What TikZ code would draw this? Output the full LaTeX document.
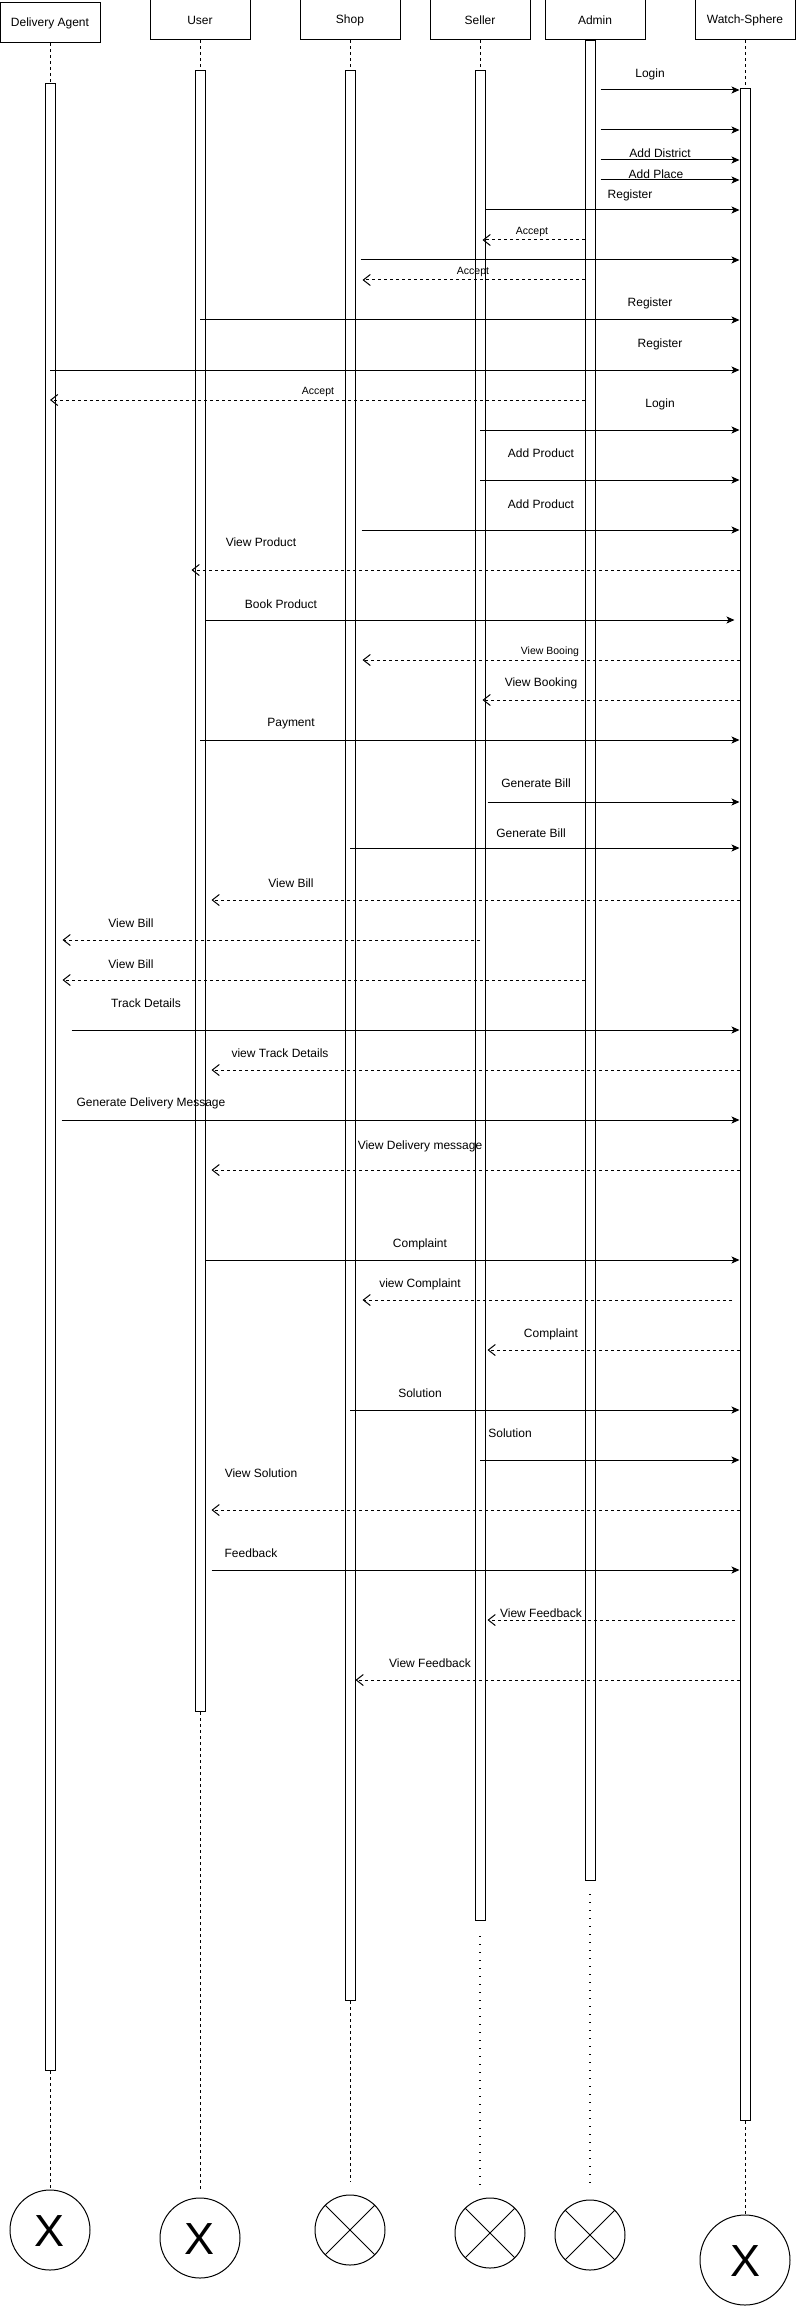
\documentclass[tikz,border=0pt]{standalone}
\usepackage{fontspec}
\setmainfont{Liberation Sans}
\usetikzlibrary{arrows.meta}

\begin{document}
\begin{tikzpicture}[x=1pt,y=-1pt,line width=1pt,
	actor/.style={draw,minimum width=100pt,minimum height=40pt,inner sep=0pt,font=\fontsize{12}{14}\selectfont},
	bar/.style={draw,fill=white,minimum width=10pt,inner sep=0pt,anchor=north},
	msg/.style={-{Stealth[length=8pt,width=7pt,inset=2pt]}},
	reply/.style={dash pattern=on 3pt off 3pt,-{Straight Barb[length=7pt,width=11pt]}},
	life/.style={dash pattern=on 3pt off 3pt},
	dots/.style={line width=1.2pt,dash pattern=on 0.6pt off 7.4pt},
	lbl/.style={font=\fontsize{12}{14}\selectfont,inner sep=0pt,text height=8.6pt,text depth=0pt},
	small/.style={font=\fontsize{10.5}{12}\selectfont,inner sep=0pt,text height=7.5pt,text depth=0pt},
	endmark/.style={draw,circle,inner sep=0pt},
	bigx/.style={font=\fontsize{45}{45}\selectfont,text height=32pt,text depth=0pt}]
	\path[use as bounding box,fill=white] (0,0) rectangle (796,2306);

	% heads
	\node[actor] (da) at (50,23) {Delivery Agent};
	\node[actor] (user) at (200,20) {User};
	\node[actor] (shop) at (350,20) {Shop};
	\node[actor] (seller) at (480,20) {Seller};
	\node[actor] (admin) at (595,20) {Admin};
	\node[actor] (ws) at (745,20) {Watch-Sphere};

	% activation bars
	\node[bar,minimum height=1987pt] (da-bar) at (50,83) {};
	\node[bar,minimum height=1641pt] (user-bar) at (200,70) {};
	\node[bar,minimum height=1930pt] (shop-bar) at (350,70) {};
	\node[bar,minimum height=1850pt] (seller-bar) at (480,70) {};
	\node[bar,minimum height=1840pt] (admin-bar) at (590,40) {};
	\node[bar,minimum height=2032pt] (ws-bar) at (745,88) {};

	% ends
	\node[endmark,bigx,minimum size=80pt] (da-end) at (50,2230) {X};
	\node[endmark,bigx,minimum size=80pt] (user-end) at (200,2238) {X};
	\node[endmark,minimum size=70pt] (shop-end) at (350,2230) {};
	\node[endmark,minimum size=70pt] (seller-end) at (490,2233) {};
	\node[endmark,minimum size=70pt] (admin-end) at (590,2235) {};
	\node[endmark,bigx,minimum size=90pt] (ws-end) at (745,2260) {X};
	\draw (shop-end.north west) -- (shop-end.south east) (shop-end.north east) -- (shop-end.south west);
	\draw (seller-end.north west) -- (seller-end.south east) (seller-end.north east) -- (seller-end.south west);
	\draw (admin-end.north west) -- (admin-end.south east) (admin-end.north east) -- (admin-end.south west);

	% lifelines
	\draw[life] (da) -- (da-bar);
	\draw[life] (user) -- (user-bar);
	\draw[life] (shop) -- (shop-bar);
	\draw[life] (seller) -- (seller-bar);
	\draw[life] (ws) -- (ws-bar);
	\draw[life] (da-bar) -- (da-end);
	\draw[life] (user-bar) -- ([yshift=6pt]user-end.north);
	\draw[life] (shop-bar) -- ([yshift=13pt]shop-end.north);
	\draw[dots] ([yshift=-15pt]seller-bar.south) -- ([yshift=13pt]seller-end.north -| seller-bar.south);
	\draw[dots] ([yshift=-13pt]admin-bar.south) -- ([yshift=10pt]admin-end.north);
	\draw[life] (ws-bar) -- (ws-end);

	% admin
	\node[lbl] (t1) at (650,73) {Login};
	\draw[msg] ([xshift=5pt]admin-bar.east |- 0,90) -- (ws-bar.west |- 0,90);
	\draw[msg] ([xshift=5pt]admin-bar.east |- 0,130) -- (ws-bar.west |- 0,130);
	\node[lbl] (t2) at (660,153) {Add District};
	\draw[msg] ([xshift=5pt]admin-bar.east |- 0,160) -- (ws-bar.west |- 0,160);
	\node[lbl] (t3) at (656,174) {Add Place};
	\draw[msg] ([xshift=5pt]admin-bar.east |- 0,180) -- (ws-bar.west |- 0,180);

	% register / accept
	\node[lbl] (t4) at (630,194) {Register};
	\draw[msg] (seller-bar.east |- 0,210) -- (ws-bar.west |- 0,210);
	\node[small] (t5) at (532,231) {Accept};
	\draw[reply] (admin-bar.west |- 0,240) -- ([xshift=-3pt]seller-bar.east |- 0,240);
	\draw[msg] ([xshift=5pt]shop-bar.east |- 0,260) -- (ws-bar.west |- 0,260);
	\node[small] (t6) at (473,271) {Accept};
	\draw[reply] (admin-bar.west |- 0,280) -- ([xshift=7pt]shop-bar.east |- 0,280);
	\node[lbl] (t7) at (650,302) {Register};
	\draw[msg] (user-bar |- 0,320) -- (ws-bar.west |- 0,320);
	\node[lbl] (t8) at (660,343) {Register};
	\draw[msg] (da-bar |- 0,370) -- (ws-bar.west |- 0,370);
	\node[small] (t9) at (318,391) {Accept};
	\draw[reply] (admin-bar.west |- 0,400) -- (da-bar |- 0,400);

	% products, booking
	\node[lbl] (t10) at (660,403) {Login};
	\draw[msg] (seller-bar |- 0,430) -- (ws-bar.west |- 0,430);
	\node[lbl] (t11) at (541,453) {Add Product};
	\draw[msg] (seller-bar |- 0,480) -- (ws-bar.west |- 0,480);
	\node[lbl] (t12) at (541,504) {Add Product};
	\draw[msg] ([xshift=6pt]shop-bar.east |- 0,530) -- (ws-bar.west |- 0,530);
	\node[lbl] (t13) at (261,542) {View Product};
	\draw[reply] (ws-bar.west |- 0,570) -- ([xshift=-3pt]user-bar.west |- 0,570);
	\node[lbl] (t14) at (281,604) {Book Product};
	\draw[msg] (user-bar.east |- 0,620) -- ([xshift=-5pt]ws-bar.west |- 0,620);
	\node[small] (t15) at (550,651) {View Booing};
	\draw[reply] (ws-bar.west |- 0,660) -- ([xshift=7pt]shop-bar.east |- 0,660);
	\node[lbl] (t16) at (541,682) {View Booking};
	\draw[reply] (ws-bar.west |- 0,700) -- ([xshift=-3pt]seller-bar.east |- 0,700);
	\node[lbl] (t17) at (291,722) {Payment};
	\draw[msg] (user-bar |- 0,740) -- (ws-bar.west |- 0,740);

	% bill
	\node[lbl] (t18) at (536,783) {Generate Bill};
	\draw[msg] ([xshift=2pt]seller-bar.east |- 0,802) -- (ws-bar.west |- 0,802);
	\node[lbl] (t19) at (531,833) {Generate Bill};
	\draw[msg] (shop-bar |- 0,848) -- (ws-bar.west |- 0,848);
	\node[lbl] (t20) at (291,883) {View Bill};
	\draw[reply] (ws-bar.west |- 0,900) -- ([xshift=6pt]user-bar.east |- 0,900);
	\node[lbl] (t21) at (131,923) {View Bill};
	\draw[reply] (seller-bar |- 0,940) -- ([xshift=7pt]da-bar.east |- 0,940);
	\node[lbl] (t22) at (131,964) {View Bill};
	\draw[reply] (admin-bar.west |- 0,980) -- ([xshift=7pt]da-bar.east |- 0,980);

	% delivery
	\node[lbl] (t23) at (146,1003) {Track Details};
	\draw[msg] ([xshift=16pt]da-bar.east |- 0,1030) -- (ws-bar.west |- 0,1030);
	\node[lbl] (t24) at (280,1053) {view Track Details};
	\draw[reply] (ws-bar.west |- 0,1070) -- ([xshift=6pt]user-bar.east |- 0,1070);
	\node[lbl] (t25) at (151,1102) {Generate Delivery Message};
	\draw[msg] ([xshift=6pt]da-bar.east |- 0,1120) -- (ws-bar.west |- 0,1120);
	\node[lbl] (t26) at (420,1145) {View Delivery message};
	\draw[reply] (ws-bar.west |- 0,1170) -- ([xshift=6pt]user-bar.east |- 0,1170);

	% complaint, feedback
	\node[lbl] (t27) at (420,1243) {Complaint};
	\draw[msg] (user-bar.east |- 0,1260) -- (ws-bar.west |- 0,1260);
	\node[lbl] (t28) at (420,1283) {view Complaint};
	\draw[reply] ([xshift=-8pt]ws-bar.west |- 0,1300) -- ([xshift=7pt]shop-bar.east |- 0,1300);
	\node[lbl] (t29) at (551,1333) {Complaint};
	\draw[reply] (ws-bar.west |- 0,1350) -- ([xshift=2pt]seller-bar.east |- 0,1350);
	\node[lbl] (t30) at (420,1393) {Solution};
	\draw[msg] (shop-bar |- 0,1410) -- (ws-bar.west |- 0,1410);
	\node[lbl] (t31) at (510,1433) {Solution};
	\draw[msg] (seller-bar |- 0,1460) -- (ws-bar.west |- 0,1460);
	\node[lbl] (t32) at (261,1473) {View Solution};
	\draw[reply] (ws-bar.west |- 0,1510) -- ([xshift=6pt]user-bar.east |- 0,1510);
	\node[lbl] (t33) at (251,1553) {Feedback};
	\draw[msg] ([xshift=6pt]user-bar.east |- 0,1570) -- (ws-bar.west |- 0,1570);
	\node[lbl] (t34) at (541,1613) {View Feedback};
	\draw[reply] ([xshift=-5pt]ws-bar.west |- 0,1620) -- ([xshift=2pt]seller-bar.east |- 0,1620);
	\node[lbl] (t35) at (430,1663) {View Feedback};
	\draw[reply] (ws-bar.west |- 0,1680) -- (shop-bar.east |- 0,1680);
\end{tikzpicture}
\end{document}
